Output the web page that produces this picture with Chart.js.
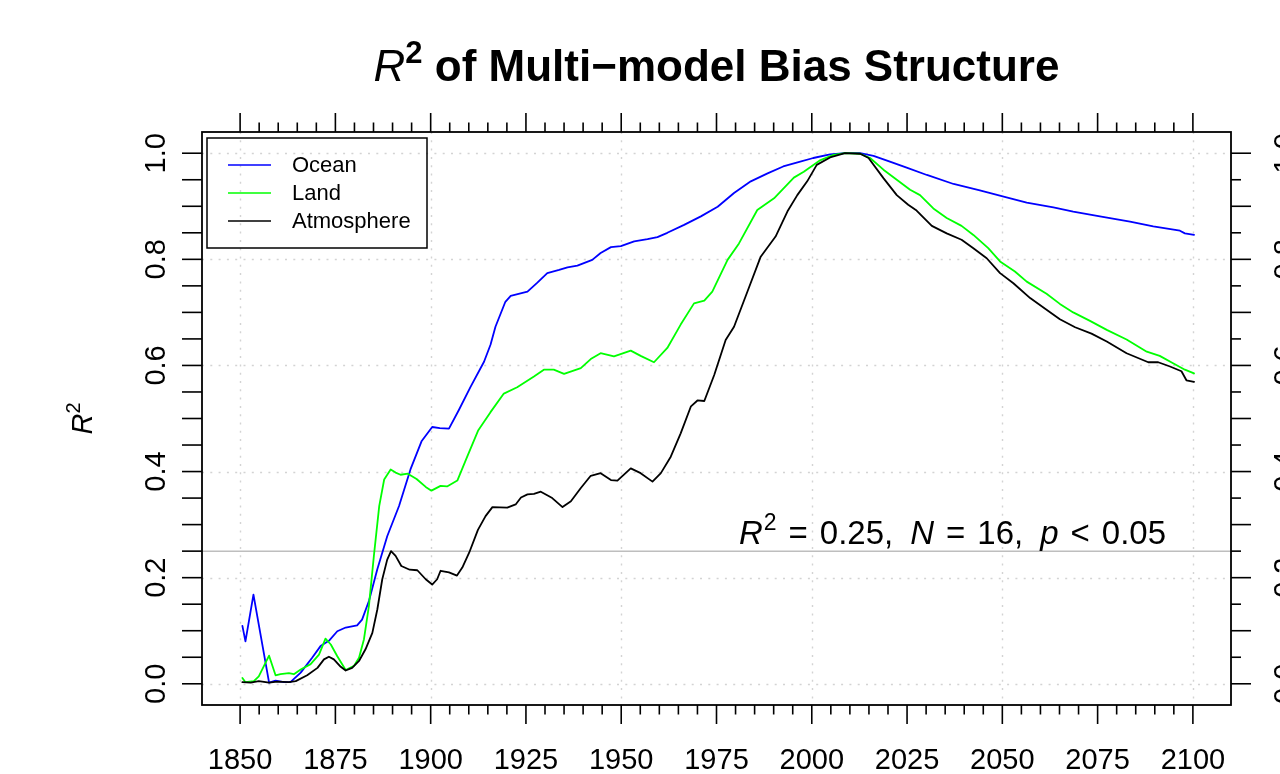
<!DOCTYPE html>
<html>
<head>
<meta charset="utf-8">
<script src="https://cdn.jsdelivr.net/npm/chart.js@4/dist/chart.umd.min.js"></script>
<style>
  html, body { margin: 0; padding: 0; background: #ffffff; }
  #wrap { width: 1280px; height: 774px; }
</style>
</head>
<body>
<div id="wrap"><canvas id="c" width="1280" height="774"></canvas></div>
<script>
// ---------------- DATA ----------------
const seriesNames = ['Ocean', 'Land', 'Atmosphere'];
const seriesColors = ['#0000FF', '#00FF00', '#000000'];

const oceanYears = [1850.6, 1851.4, 1853.5, 1857.6, 1859.3, 1861.5, 1863.2, 1865.9, 1868.9, 1871.1,
  1873.3, 1875.5, 1877.7, 1880.7, 1882.0, 1883.8, 1886.0, 1888.6, 1891.7, 1894.7,
  1897.6, 1900.4, 1902.4, 1904.8, 1907.4, 1910.5, 1914.0, 1915.7, 1917.0, 1919.6, 1921.0,
  1925.4, 1928.0, 1930.6, 1933.7, 1935.9, 1938.5, 1942.4, 1944.6, 1947.3, 1949.9,
  1953.4, 1956.9, 1959.5, 1962.1, 1966.5, 1970.9, 1975.3, 1979.6, 1984.0, 1988.4,
  1992.5, 1996.5, 2000.4, 2004.8, 2008.7, 2012.7, 2016.2, 2020.5, 2024.9, 2030.2,
  2037.2, 2044.1, 2051.1, 2056.4, 2063.4, 2068.6, 2075.6, 2083.5, 2089.6, 2096.6,
  2097.9, 2100.3];
const oceanValues = [0.109, 0.080, 0.168, 0.002, 0.006, 0.003, 0.003, 0.021, 0.049, 0.071,
  0.081, 0.099, 0.106, 0.110, 0.121, 0.156, 0.216, 0.278, 0.335, 0.404,
  0.457, 0.484, 0.482, 0.481, 0.516, 0.560, 0.607, 0.639, 0.673, 0.720, 0.731,
  0.739, 0.756, 0.774, 0.780, 0.785, 0.788, 0.799, 0.812, 0.823, 0.825,
  0.834, 0.838, 0.842, 0.850, 0.865, 0.881, 0.899, 0.925, 0.947, 0.962,
  0.975, 0.983, 0.991, 0.998, 1.000, 1.000, 0.995, 0.984, 0.973, 0.959,
  0.942, 0.930, 0.917, 0.907, 0.898, 0.890, 0.881, 0.871, 0.862, 0.854,
  0.849, 0.846];

const landYears = [1850.6, 1851.4, 1853.6, 1854.9, 1857.6, 1859.3, 1860.6, 1862.8, 1864.1, 1865.9,
  1868.5, 1870.7, 1872.4, 1873.8, 1875.5, 1877.7, 1879.9, 1881.2, 1882.5, 1883.8,
  1885.1, 1886.5, 1887.8, 1889.5, 1890.8, 1892.1, 1894.0, 1896.3, 1898.7, 1900.2,
  1902.6, 1904.3, 1907.0, 1909.4, 1912.5, 1915.7, 1919.2, 1922.7, 1927.1, 1929.7,
  1932.3, 1935.0, 1939.4, 1942.0, 1944.6, 1948.1, 1952.5, 1955.1, 1958.6, 1962.1,
  1965.6, 1969.1, 1971.8, 1973.9, 1977.9, 1980.9, 1985.7, 1990.1, 1995.3, 1997.9,
  2002.0, 2005.7, 2008.7, 2012.7, 2015.3, 2018.8, 2022.3, 2025.8, 2028.4, 2031.9,
  2035.4, 2039.3, 2042.4, 2046.3, 2049.4, 2053.3, 2056.4, 2061.6, 2065.1, 2068.6,
  2073.0, 2077.4, 2082.6, 2087.9, 2091.3, 2094.8, 2097.9, 2100.3];
const landValues = [0.011, 0.003, 0.005, 0.014, 0.053, 0.016, 0.018, 0.020, 0.018, 0.027,
  0.037, 0.055, 0.085, 0.074, 0.052, 0.026, 0.034, 0.049, 0.084, 0.147,
  0.241, 0.335, 0.385, 0.404, 0.398, 0.394, 0.396, 0.386, 0.371, 0.364,
  0.373, 0.372, 0.383, 0.425, 0.478, 0.512, 0.547, 0.559, 0.579, 0.592,
  0.592, 0.584, 0.595, 0.612, 0.623, 0.617, 0.628, 0.618, 0.606, 0.633,
  0.677, 0.717, 0.722, 0.739, 0.799, 0.830, 0.893, 0.915, 0.954, 0.965,
  0.986, 0.997, 1.000, 0.999, 0.991, 0.969, 0.950, 0.931, 0.921, 0.896,
  0.878, 0.863, 0.846, 0.821, 0.796, 0.777, 0.758, 0.735, 0.716, 0.700,
  0.684, 0.667, 0.649, 0.626, 0.618, 0.604, 0.592, 0.585];

const atmoYears = [1850.6, 1852.8, 1854.9, 1857.6, 1859.7, 1862.8, 1864.6, 1867.6, 1870.3, 1872.0,
  1873.3, 1874.6, 1876.4, 1877.7, 1879.4, 1881.2, 1882.9, 1884.7, 1886.0, 1887.3,
  1888.6, 1889.6, 1890.8, 1892.3, 1894.5, 1896.5, 1898.7, 1900.4, 1901.7, 1902.6,
  1904.8, 1906.9, 1908.3, 1910.1, 1912.4, 1914.4, 1916.2, 1920.1, 1922.3, 1923.7,
  1925.4, 1927.1, 1928.9, 1931.9, 1934.6, 1936.8, 1939.4, 1942.0, 1944.6, 1947.3,
  1949.0, 1952.5, 1955.1, 1958.2, 1960.4, 1963.0, 1965.6, 1968.3, 1970.0, 1971.8,
  1974.4, 1977.4, 1979.6, 1983.1, 1986.6, 1990.5, 1993.6, 1996.2, 1998.8, 2001.3,
  2004.8, 2008.7, 2012.7, 2014.9, 2018.8, 2022.3, 2025.3, 2027.5, 2031.5, 2035.4,
  2039.3, 2042.4, 2045.9, 2049.4, 2052.9, 2057.3, 2061.6, 2065.1, 2069.1, 2073.4,
  2077.4, 2082.6, 2088.3, 2090.9, 2094.0, 2097.0, 2098.3, 2100.3];
const atmoValues = [0.003, 0.002, 0.005, 0.002, 0.004, 0.003, 0.005, 0.016, 0.030, 0.046,
  0.051, 0.046, 0.032, 0.025, 0.030, 0.043, 0.065, 0.096, 0.140, 0.197,
  0.234, 0.250, 0.241, 0.222, 0.215, 0.214, 0.197, 0.187, 0.197, 0.213,
  0.210, 0.204, 0.219, 0.247, 0.290, 0.316, 0.333, 0.332, 0.338, 0.351,
  0.357, 0.358, 0.362, 0.350, 0.333, 0.344, 0.369, 0.392, 0.397, 0.384,
  0.383, 0.406, 0.397, 0.381, 0.397, 0.428, 0.472, 0.523, 0.534, 0.533,
  0.582, 0.648, 0.673, 0.739, 0.805, 0.843, 0.890, 0.921, 0.947, 0.978,
  0.992, 1.000, 0.999, 0.991, 0.953, 0.921, 0.903, 0.892, 0.863, 0.849,
  0.837, 0.821, 0.802, 0.774, 0.755, 0.727, 0.705, 0.687, 0.672, 0.660,
  0.645, 0.623, 0.606, 0.606, 0.598, 0.589, 0.572, 0.569];

const thresholdR2 = 0.25;
const xTickValues = [1850, 1875, 1900, 1925, 1950, 1975, 2000, 2025, 2050, 2075, 2100];
const xTickLabels = ['1850', '1875', '1900', '1925', '1950', '1975', '2000', '2025', '2050', '2075', '2100'];
const yTickValues = [0.0, 0.2, 0.4, 0.6, 0.8, 1.0];
const yTickLabels = ['0.0', '0.2', '0.4', '0.6', '0.8', '1.0'];
const xGridValues = [1850, 1900, 1950, 2000, 2050, 2100];
const yGridValues = [0.0, 0.2, 0.4, 0.6, 0.8, 1.0];

// ---------------- CHART ----------------
const FONT = '"Liberation Sans", Arial, Helvetica, sans-serif';
const toPts = (xs, ys) => xs.map((x, i) => ({ x: x, y: ys[i] }));

function richWidth(ctx, parts) {
  let w = 0;
  for (const p of parts) { ctx.font = p.font; w += ctx.measureText(p.t).width + (p.gap || 0); }
  return w;
}
function drawRich(ctx, parts, x, y) {
  let cx = x;
  for (const p of parts) {
    ctx.font = p.font;
    ctx.fillText(p.t, cx, y + (p.dy || 0));
    cx += ctx.measureText(p.t).width + (p.gap || 0);
  }
}
function seg(ctx, x1, y1, x2, y2) {
  ctx.beginPath(); ctx.moveTo(x1, y1); ctx.lineTo(x2, y2); ctx.stroke();
}

const decorPlugin = {
  id: 'decor',
  beforeDatasetsDraw(chart) {
    const ctx = chart.ctx, a = chart.chartArea;
    const xs = chart.scales.x, ys = chart.scales.y;
    ctx.save();
    ctx.strokeStyle = '#D3D3D3';
    ctx.lineWidth = 1.4;
    ctx.setLineDash([2, 6.3]);
    for (const v of xGridValues) {
      const px = Math.round(xs.getPixelForValue(v)) + 0.5;
      seg(ctx, px, a.top, px, a.bottom);
    }
    for (const v of yGridValues) {
      const py = Math.round(ys.getPixelForValue(v)) + 0.5;
      seg(ctx, a.left, py, a.right, py);
    }
    ctx.setLineDash([]);
    ctx.strokeStyle = '#BEBEBE';
    ctx.lineWidth = 1.5;
    const ty = ys.getPixelForValue(thresholdR2);
    seg(ctx, a.left, ty, a.right, ty);
    ctx.restore();
  },
  afterDatasetsDraw(chart) {
    const ctx = chart.ctx, a = chart.chartArea;
    const xs = chart.scales.x, ys = chart.scales.y;
    ctx.save();
    ctx.fillStyle = '#000';
    ctx.strokeStyle = '#000';

    ctx.lineWidth = 1.8;
    ctx.strokeRect(a.left, a.top, a.right - a.left, a.bottom - a.top);

    ctx.lineWidth = 1.6;
    for (let yr = 1850; yr <= 2100; yr += 5) {
      const px = xs.getPixelForValue(yr);
      const len = (yr % 25 === 0) ? 19 : 9.5;
      seg(ctx, px, a.bottom, px, a.bottom + len);
      seg(ctx, px, a.top, px, a.top - len);
    }
    for (let k = 0; k <= 20; k++) {
      const v = k * 0.05;
      const py = ys.getPixelForValue(v);
      seg(ctx, a.left, py, a.left - 20, py);
      const rl = (k % 2 === 0) ? 20 : 10;
      seg(ctx, a.right, py, a.right + rl, py);
    }

    ctx.font = '29px ' + FONT;
    ctx.textAlign = 'center';
    ctx.textBaseline = 'alphabetic';
    xTickValues.forEach((v, i) => {
      ctx.fillText(xTickLabels[i], xs.getPixelForValue(v), 769);
    });
    yTickValues.forEach((v, i) => {
      const py = ys.getPixelForValue(v);
      ctx.save(); ctx.translate(165, py); ctx.rotate(-Math.PI / 2);
      ctx.fillText(yTickLabels[i], 0, 0); ctx.restore();
      ctx.save(); ctx.translate(1294, py); ctx.rotate(-Math.PI / 2);
      ctx.fillText(yTickLabels[i], 0, 0); ctx.restore();
    });

    ctx.textAlign = 'left';
    const yt = [
      { t: 'R', font: 'italic 29px ' + FONT },
      { t: '2', font: '20px ' + FONT, dy: -12 }
    ];
    const ytw = richWidth(ctx, yt);
    ctx.save(); ctx.translate(92, (a.top + a.bottom) / 2); ctx.rotate(-Math.PI / 2);
    drawRich(ctx, yt, -ytw / 2, 0); ctx.restore();

    const tp = [
      { t: 'R', font: 'italic 44px ' + FONT },
      { t: '2', font: 'bold 31px ' + FONT, dy: -18 },
      { t: ' of Multi\u2212model Bias Structure', font: 'bold 44px ' + FONT }
    ];
    const tw = richWidth(ctx, tp);
    drawRich(ctx, tp, (a.left + a.right) / 2 - tw / 2, 81);

    // annotation, plotmath-like spacing around relations
    const F = '33px ' + FONT, FI = 'italic 33px ' + FONT;
    const ap = [
      { t: 'R', font: FI, gap: 1 },
      { t: '2', font: '23px ' + FONT, dy: -14, gap: 12 },
      { t: '=', font: F, gap: 12 },
      { t: '0.25,', font: F, gap: 17 },
      { t: 'N', font: FI, gap: 12 },
      { t: '=', font: F, gap: 12 },
      { t: '16,', font: F, gap: 17 },
      { t: 'p', font: FI, gap: 12 },
      { t: '<', font: F, gap: 12 },
      { t: '0.05', font: F }
    ];
    const aw = richWidth(ctx, ap);
    drawRich(ctx, ap, 1166 - aw, 544);

    ctx.lineWidth = 1.5;
    ctx.strokeRect(207, 138, 220, 110);
    ctx.font = '22px ' + FONT;
    ctx.textBaseline = 'middle';
    const ly = [165, 193, 221];
    chart.data.datasets.forEach((ds, i) => {
      ctx.strokeStyle = ds.borderColor;
      ctx.lineWidth = 1.6;
      seg(ctx, 228, ly[i], 271, ly[i]);
      ctx.fillStyle = '#000';
      ctx.fillText(ds.label, 292, ly[i] + 1);
    });
    ctx.restore();
  }
};

const ctx = document.getElementById('c').getContext('2d');
new Chart(ctx, {
  type: 'line',
  data: {
    datasets: [
      { label: seriesNames[0], data: toPts(oceanYears, oceanValues), borderColor: seriesColors[0], order: 3 },
      { label: seriesNames[1], data: toPts(landYears, landValues), borderColor: seriesColors[1], order: 2 },
      { label: seriesNames[2], data: toPts(atmoYears, atmoValues), borderColor: seriesColors[2], order: 1 }
    ]
  },
  options: {
    responsive: false,
    animation: false,
    devicePixelRatio: 1,
    layout: { padding: { left: 202, top: 132, right: 49, bottom: 69 } },
    datasets: { line: { borderWidth: 1.8, pointRadius: 0, tension: 0, fill: false } },
    elements: { line: { borderJoinStyle: 'round', borderCapStyle: 'round' } },
    scales: {
      x: { type: 'linear', min: 1840, max: 2110, display: false },
      y: { type: 'linear', min: -0.04, max: 1.04, display: false }
    },
    plugins: { legend: { display: false }, title: { display: false }, tooltip: { enabled: false } }
  },
  plugins: [decorPlugin]
});
</script>
</body>
</html>
